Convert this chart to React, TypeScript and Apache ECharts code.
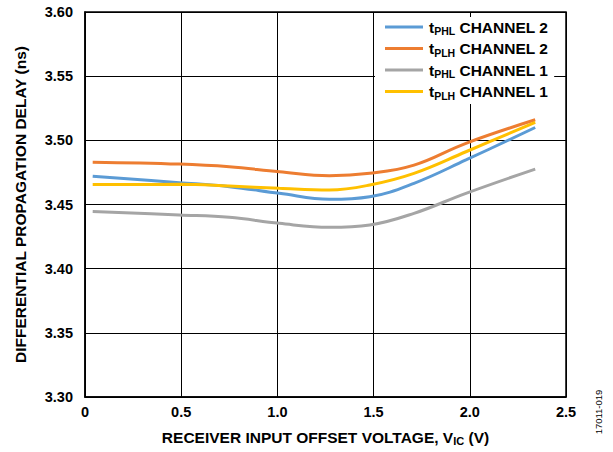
import React, { useEffect, useRef } from "react";
import * as echarts from "echarts";

const xValues = [0.04, 0.49, 0.75, 1.01, 1.27, 1.48, 1.71, 1.98, 2.34];
const tphlCh2 = [3.472, 3.467, 3.4639, 3.4587, 3.454, 3.456, 3.4665, 3.4847, 3.510];
const tplhCh2 = [3.483, 3.4815, 3.4794, 3.4755, 3.4724, 3.4743, 3.4807, 3.4977, 3.516];
const tphlCh1 = [3.4445, 3.4418, 3.44, 3.4353, 3.4322, 3.434, 3.4431, 3.4587, 3.4776];
const tplhCh1 = [3.4655, 3.4657, 3.4644, 3.4626, 3.4613, 3.4652, 3.4743, 3.4911, 3.514];

const seriesDefs = [
  { name: "PHL2", sub: "PHL", ch: "2", data: tphlCh2, color: "#5B9BD5" },
  { name: "PLH2", sub: "PLH", ch: "2", data: tplhCh2, color: "#ED7D31" },
  { name: "PHL1", sub: "PHL", ch: "1", data: tphlCh1, color: "#A5A5A5" },
  { name: "PLH1", sub: "PLH", ch: "1", data: tplhCh1, color: "#FFC000" },
];

const xTicks = ["0", "0.5", "1.0", "1.5", "2.0", "2.5"];

const FONT = "'Liberation Sans', Arial, sans-serif";

export default function App() {
  const ref = useRef<HTMLDivElement>(null);
  useEffect(() => {
    document.body.style.margin = "0";
    const chart = echarts.init(ref.current!, null, { renderer: "svg" });
    chart.setOption({
      animation: false,
      backgroundColor: "#fff",
      textStyle: { fontFamily: FONT },
      grid: {
        left: 85,
        top: 12,
        right: 47,
        bottom: 55,
        show: true,
        borderColor: "#000",
        borderWidth: 1.5,
      },
      legend: {
        orient: "vertical",
        left: 375,
        top: 17,
        width: 188,
        padding: [2, 6, 3, 10],
        itemGap: 4,
        itemWidth: 38,
        itemHeight: 3,
        icon: "rect",
        backgroundColor: "#fff",
        data: seriesDefs.map((s) => s.name),
        formatter: (name: string) => {
          const s = seriesDefs.find((d) => d.name === name)!;
          return `{t|t}{s|${s.sub}}{t| CHANNEL ${s.ch}}`;
        },
        textStyle: {
          fontFamily: FONT,
          padding: [0, 0, 0, 1],
          rich: {
            t: { fontSize: 15.5, fontWeight: "bold", color: "#000", fontFamily: FONT },
            s: {
              fontSize: 10.5,
              fontWeight: "bold",
              color: "#000",
              fontFamily: FONT,
              padding: [8, 0, 0, 0],
            },
          },
        },
      },
      xAxis: {
        type: "value",
        min: 0,
        max: 2.5,
        interval: 0.5,
        name: "{a|RECEIVER INPUT OFFSET VOLTAGE, V}{s|IC}{a| (V)}",
        nameLocation: "middle",
        nameGap: 31,
        nameTextStyle: {
          rich: {
            a: { fontSize: 15.5, fontWeight: "bold", color: "#000", fontFamily: FONT },
            s: { fontSize: 11, fontWeight: "bold", color: "#000", fontFamily: FONT, padding: [7, 0, 0, 0] },
          },
        },
        axisLine: { show: true, lineStyle: { color: "#000", width: 1.5 } },
        axisTick: { show: false },
        splitLine: { show: true, lineStyle: { color: "#000", width: 1 } },
        axisLabel: {
          margin: 7,
          fontSize: 14.5,
          fontWeight: "bold",
          color: "#000",
          fontFamily: FONT,
          formatter: (v: number) => xTicks[Math.round(v / 0.5)] ?? "",
        },
      },
      yAxis: {
        type: "value",
        min: 3.3,
        max: 3.6,
        interval: 0.05,
        name: "DIFFERENTIAL PROPAGATION DELAY (ns)",
        nameLocation: "middle",
        nameGap: 57,
        nameTextStyle: { fontSize: 15.5, fontWeight: "bold", color: "#000", fontFamily: FONT },
        axisLine: { show: true, lineStyle: { color: "#000", width: 1.5 } },
        axisTick: { show: false },
        splitLine: { show: true, lineStyle: { color: "#000", width: 1 } },
        axisLabel: {
          margin: 12,
          fontSize: 14.5,
          fontWeight: "bold",
          color: "#000",
          fontFamily: FONT,
          formatter: (v: number) => v.toFixed(2),
        },
      },
      series: seriesDefs.map((s) => ({
        name: s.name,
        type: "line",
        smooth: 0.4,
        symbol: "none",
        showSymbol: false,
        color: s.color,
        lineStyle: { color: s.color, width: 3 },
        data: xValues.map((x, i) => [x, s.data[i]]),
      })),
      graphic: [
        {
          type: "text",
          x: 598,
          y: 412,
          rotation: Math.PI / 2,
          style: {
            text: "17011-019",
            fontSize: 9.5,
            fontFamily: FONT,
            fill: "#000",
            align: "center",
            verticalAlign: "middle",
          },
        },
      ],
    });
    return () => chart.dispose();
  }, []);
  return <div ref={ref} style={{ width: 613, height: 452 }} />;
}
